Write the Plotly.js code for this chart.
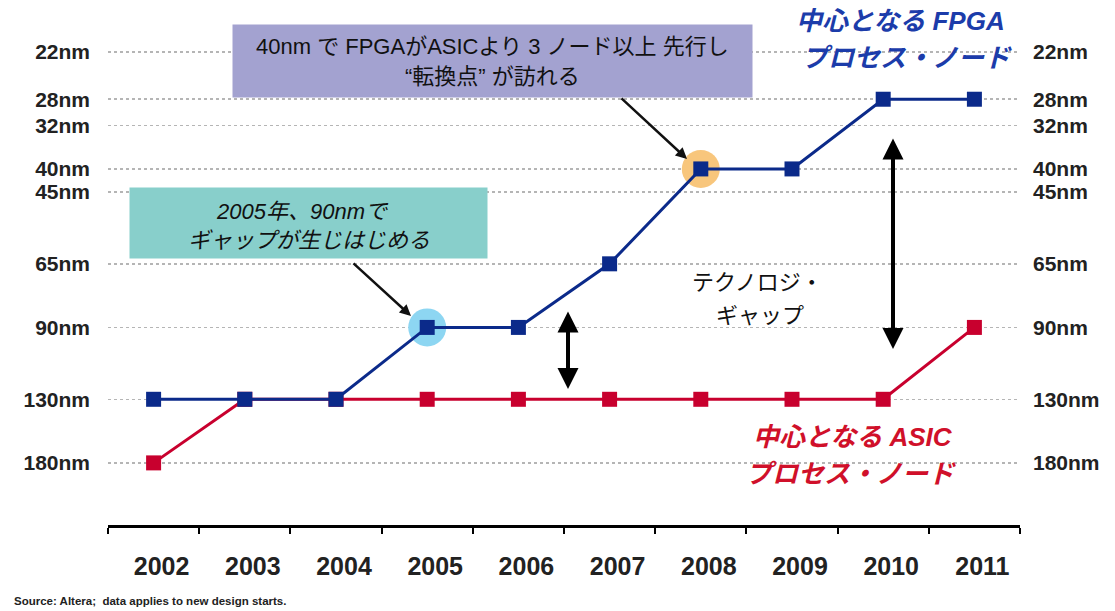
<!DOCTYPE html>
<html>
<head>
<meta charset="utf-8">
<script src="https://cdn.plot.ly/plotly-3.0.1.min.js"></script>
<style>html,body{margin:0;padding:0;background:#fff;}#chart{width:1115px;height:611px;}</style>
</head>
<body>
<div id="chart"></div>
<script>
// ---- data ----
const years = ['2002','2003','2004','2005','2006','2007','2008','2009','2010','2011'];
const fpgaNode = [130, 130, 130, 90, 90, 65, 40, 40, 28, 28];
const asicNode = [180, 130, 130, 130, 130, 130, 130, 130, 130, 90];
const nodeTicks = [22, 28, 32, 40, 45, 65, 90, 130, 180];
const nodeTickText = ['22nm','28nm','32nm','40nm','45nm','65nm','90nm','130nm','180nm'];
const highlightYears = ['2005', '2008'];
const highlightNodes = [90, 40];
const highlightColors = ['#8dd6f2', '#f8c67c'];

const fpgaColor = '#0b2a8a';
const asicColor = '#c8002e';
const jp = 'Liberation Sans, Arial, "Noto Sans CJK JP", sans-serif';

const yRange = [2.3933, 1.2711];

const traces = [
  {x: highlightYears, y: highlightNodes, type: 'scatter', mode: 'markers',
   marker: {symbol: 'circle', size: 38, color: highlightColors}, hoverinfo: 'skip', showlegend: false},
  {x: years, y: asicNode, type: 'scatter', mode: 'lines+markers', name: 'ASIC',
   line: {color: asicColor, width: 3}, marker: {symbol: 'square', size: 15, color: asicColor}, showlegend: false},
  {x: years, y: fpgaNode, type: 'scatter', mode: 'lines+markers', name: 'FPGA',
   line: {color: fpgaColor, width: 3}, marker: {symbol: 'square', size: 15, color: fpgaColor}, showlegend: false},
  {x: years, y: fpgaNode, type: 'scatter', mode: 'none', yaxis: 'y2', hoverinfo: 'skip', showlegend: false}
];

function px(x){ return (x - 108) / 912; }
function py(y){ return (525 - y) / 505; }

function label(x, y, text, size, color){
  return {xref: 'paper', yref: 'paper', x: px(x), y: py(y), xanchor: 'center', yanchor: 'middle',
    text: text, showarrow: false, font: {family: jp, size: size, color: color}};
}

const annotations = [
  {xref: 'paper', yref: 'paper', x: px(492.5), y: py(61), xanchor: 'center', yanchor: 'middle',
   text: '', showarrow: false, bgcolor: '#a3a2d0', width: 519, height: 72, borderpad: 0},
  label(492, 46, '40nm で FPGAがASICより 3 ノード以上 先行し', 22, '#111'),
  label(492, 76, '“転換点” が訪れる', 22, '#111'),
  {xref: 'paper', yref: 'paper', x: px(308.5), y: py(223), xanchor: 'center', yanchor: 'middle',
   text: '', showarrow: false, bgcolor: '#88cfcb', width: 357, height: 70, borderpad: 0},
  label(302, 211, '<i>2005年、90nmで</i>', 22, '#111'),
  label(309, 240, '<i>ギャップが生じはじめる</i>', 22, '#111'),
  {xref: 'paper', yref: 'paper', x: px(687), y: py(159), ax: -67, ay: -62, text: '', showarrow: true,
   arrowhead: 2, arrowsize: 0.9, arrowwidth: 2.5, arrowcolor: '#111', standoff: 0},
  {xref: 'paper', yref: 'paper', x: px(411), y: py(316), ax: -59, ay: -54, text: '', showarrow: true,
   arrowhead: 2, arrowsize: 0.9, arrowwidth: 2.5, arrowcolor: '#111', standoff: 0},
  {xref: 'paper', yref: 'paper', x: px(568), y: py(389), ax: 0, ay: -79, text: '', showarrow: true,
   arrowside: 'end+start', arrowhead: 2, startarrowhead: 2, arrowsize: 1.05, startarrowsize: 1.05,
   arrowwidth: 4, arrowcolor: '#000', standoff: 0, startstandoff: 0},
  {xref: 'paper', yref: 'paper', x: px(893), y: py(349), ax: 0, ay: -212, text: '', showarrow: true,
   arrowside: 'end+start', arrowhead: 2, startarrowhead: 2, arrowsize: 1.05, startarrowsize: 1.05,
   arrowwidth: 4, arrowcolor: '#000', standoff: 0, startstandoff: 0},
  label(757, 282, 'テクノロジ・', 22, '#111'),
  label(760, 315, 'ギャップ', 22, '#111'),
  label(900, 21, '<b><i>中心となる FPGA</i></b>', 26, '#1c3caa'),
  label(907, 58, '<b><i>プロセス・ノード</i></b>', 26, '#1c3caa'),
  label(853, 437, '<b><i>中心となる ASIC</i></b>', 26, '#d0102a'),
  label(851, 474, '<b><i>プロセス・ノード</i></b>', 26, '#d0102a'),
  {xref: 'paper', yref: 'paper', x: px(12), y: py(601), xanchor: 'left', yanchor: 'middle',
   text: '<b>Source: Altera;  data applies to new design starts.</b>', showarrow: false,
   font: {family: 'Liberation Sans, Arial, sans-serif', size: 11.5, color: '#222'}}
];

const tickFont = {family: 'Liberation Sans, Arial, sans-serif', size: 21, weight: 'bold', color: '#222'};

const layout = {
  width: 1115, height: 611,
  margin: {l: 108, r: 95, t: 20, b: 86},
  paper_bgcolor: '#fff', plot_bgcolor: '#fff',
  showlegend: false,
  xaxis: {type: 'category', categoryorder: 'array', categoryarray: years,
    range: [-0.5, 9.5], tickson: 'boundaries', ticks: 'outside', ticklen: 6, tickwidth: 2, tickcolor: '#000',
    showline: true, linecolor: '#000', linewidth: 2.5, showgrid: false, zeroline: false,
    tickfont: {family: 'Liberation Sans, Arial, sans-serif', size: 25, weight: 'bold', color: '#222'},
    ticklabelstandoff: 17, ticklabelshift: 8},
  yaxis: {type: 'log', range: yRange, tickvals: nodeTicks, ticktext: nodeTickText,
    showgrid: true, gridcolor: '#b5b5b5', gridwidth: 1.5, griddash: 'dot', zeroline: false, showline: false,
    ticks: '', tickfont: tickFont, ticklabelstandoff: 17},
  yaxis2: {type: 'log', range: yRange, overlaying: 'y', side: 'right', tickvals: nodeTicks, ticktext: nodeTickText,
    showgrid: false, zeroline: false, showline: false, ticks: '', tickfont: tickFont, ticklabelstandoff: 12},
  annotations: annotations
};

Plotly.newPlot('chart', traces, layout, {displayModeBar: false, staticPlot: true});
</script>
</body>
</html>
